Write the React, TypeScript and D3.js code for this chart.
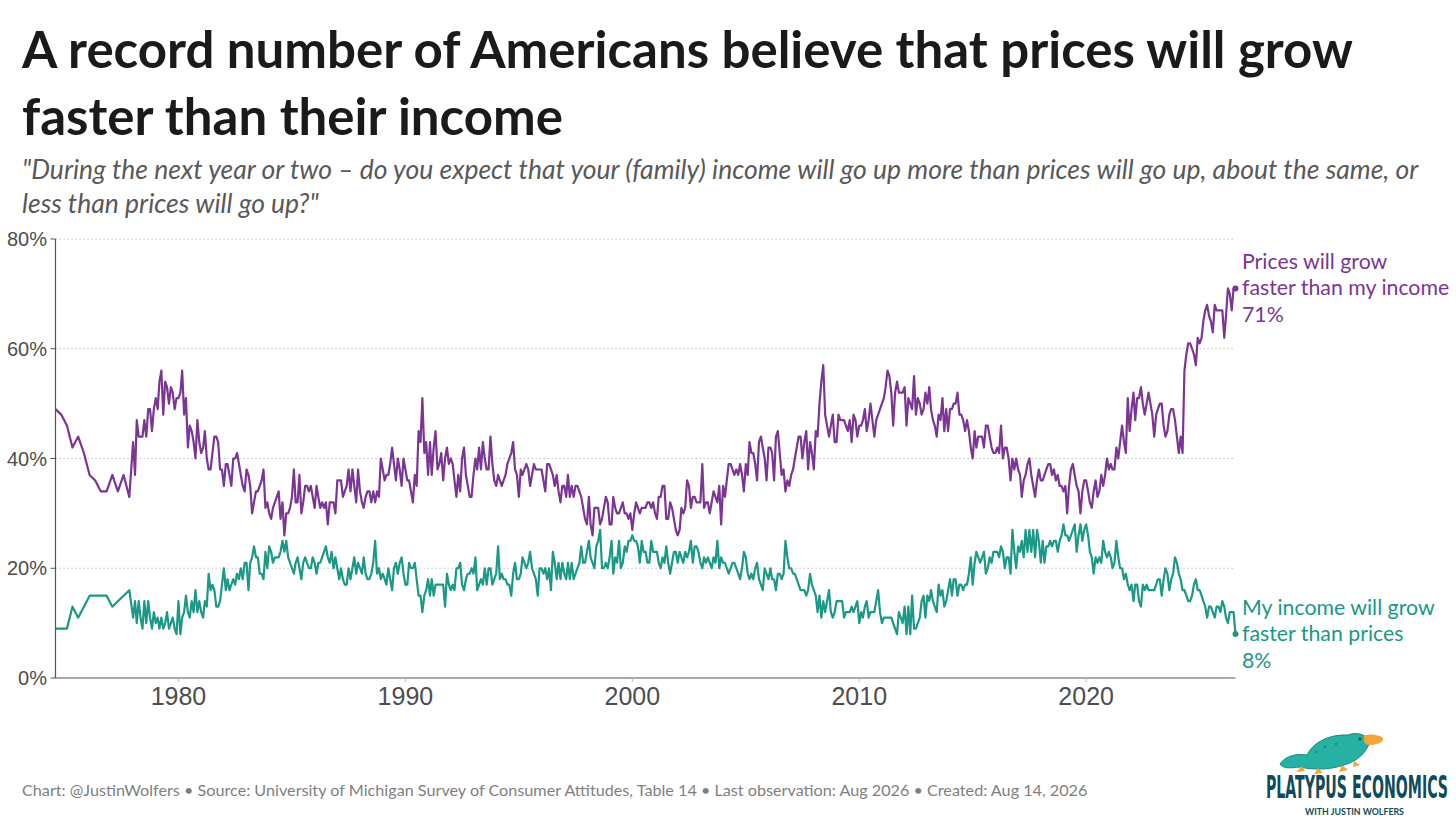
import { useLayoutEffect, useRef, useState } from "react";
import * as d3 from "d3";

// Quarterly readings, Aug 1974 – Nov 1977
const pricesQuarterly = [49, 48, 46, 42, 44, 41, 37, 36, 34, 34, 37, 34, 37, 33];
const incomeQuarterly = [9, 9, 9, 13, 11, 13, 15, 15, 15, 15, 13, 14, 15, 16];

// Monthly readings, Jan 1978 – Aug 2026 (one row per year)
const pricesMonthly = [
  43, 37, 47, 44, 44, 44, 47, 44, 49, 49, 45, 49, // 1978
  51, 49, 54, 56, 48, 54, 53, 50, 53, 52, 49, 51, // 1979
  51, 52, 56, 48, 51, 42, 46, 45, 43, 40, 47, 43, // 1980
  41, 42, 45, 40, 38, 38, 41, 44, 44, 43, 38, 38, // 1981
  35, 39, 39, 37, 35, 40, 40, 41, 39, 37, 35, 34, // 1982
  38, 37, 35, 30, 32, 34, 34, 35, 36, 38, 31, 32, // 1983
  30, 29, 31, 32, 33, 34, 29, 32, 26, 30, 30, 31, // 1984
  33, 38, 32, 32, 37, 30, 32, 35, 35, 34, 35, 33, // 1985
  31, 35, 33, 31, 32, 31, 32, 28, 32, 32, 32, 30, // 1986
  36, 36, 36, 33, 34, 35, 38, 34, 38, 35, 32, 38, // 1987
  34, 32, 31, 33, 34, 34, 32, 34, 32, 34, 33, 40, // 1988
  38, 36, 37, 37, 39, 42, 39, 36, 40, 38, 35, 40, // 1989
  38, 36, 36, 34, 32, 37, 35, 45, 43, 51, 41, 43, // 1990
  37, 43, 37, 42, 45, 38, 39, 41, 36, 40, 42, 39, // 1991
  40, 39, 36, 33, 37, 34, 40, 42, 37, 35, 33, 33, // 1992
  37, 40, 38, 42, 38, 43, 40, 38, 38, 44, 39, 36, // 1993
  35, 37, 36, 35, 36, 37, 39, 40, 41, 43, 38, 37, // 1994
  33, 38, 37, 38, 39, 38, 35, 37, 39, 38, 38, 38, // 1995
  38, 36, 34, 39, 39, 38, 37, 35, 37, 34, 32, 35, // 1996
  35, 33, 37, 33, 35, 33, 35, 35, 34, 33, 31, 29, // 1997
  28, 33, 28, 26, 31, 31, 31, 28, 29, 31, 33, 32, // 1998
  28, 28, 33, 31, 30, 30, 31, 32, 30, 30, 29, 30, // 1999
  27, 30, 32, 31, 30, 31, 31, 31, 32, 32, 31, 32, // 2000
  30, 29, 33, 33, 35, 35, 29, 29, 32, 31, 29, 27, // 2001
  26, 27, 31, 30, 31, 36, 35, 31, 33, 33, 32, 32, // 2002
  32, 39, 31, 32, 32, 30, 32, 34, 33, 32, 35, 28, // 2003
  35, 33, 36, 39, 39, 38, 37, 38, 37, 39, 37, 34, // 2004
  39, 37, 43, 41, 41, 39, 36, 43, 44, 42, 40, 36, // 2005
  42, 42, 41, 36, 44, 45, 41, 37, 38, 34, 36, 35, // 2006
  37, 38, 40, 42, 44, 44, 40, 43, 45, 38, 43, 41, // 2007
  38, 45, 44, 50, 54, 57, 48, 46, 44, 46, 48, 43, // 2008
  43, 48, 47, 47, 47, 46, 45, 47, 43, 48, 47, 44, // 2009
  46, 46, 47, 49, 45, 47, 50, 47, 44, 47, 48, 49, // 2010
  50, 51, 53, 56, 55, 52, 46, 52, 54, 52, 52, 52, // 2011
  53, 46, 51, 50, 49, 55, 48, 51, 50, 48, 49, 52, // 2012
  50, 53, 49, 47, 46, 44, 48, 47, 51, 45, 49, 45, // 2013
  49, 49, 50, 50, 52, 48, 48, 47, 45, 47, 45, 42, // 2014
  40, 45, 42, 44, 44, 44, 42, 46, 46, 44, 42, 41, // 2015
  41, 42, 41, 46, 40, 42, 42, 40, 36, 40, 38, 40, // 2016
  38, 37, 33, 36, 37, 39, 40, 37, 35, 33, 36, 38, // 2017
  36, 36, 37, 38, 39, 39, 37, 38, 36, 37, 35, 35, // 2018
  34, 35, 30, 35, 38, 39, 37, 35, 34, 30, 34, 36, // 2019
  36, 34, 32, 31, 34, 36, 33, 34, 37, 35, 37, 40, // 2020
  38, 39, 38, 38, 42, 40, 43, 46, 43, 41, 51, 45, // 2021
  49, 52, 47, 51, 51, 53, 50, 48, 50, 52, 50, 48, // 2022
  44, 48, 49, 50, 50, 46, 44, 45, 48, 49, 49, 47, // 2023
  44, 41, 44, 41, 56, 59, 61, 61, 60, 59, 57, 62, // 2024
  61, 62, 65, 67, 68, 66, 65, 63, 68, 67, 67, 67, // 2025
  67, 62, 66, 71, 70, 67, 71, 71, // 2026
];

const incomeMonthly = [
  11, 14, 10, 14, 11, 9, 14, 10, 14, 11, 9, 12, // 1978
  10, 11, 9, 11, 9, 10, 12, 9, 10, 11, 9, 8, // 1979
  14, 8, 11, 12, 15, 12, 11, 14, 12, 16, 12, 14, // 1980
  12, 11, 14, 13, 19, 16, 17, 16, 13, 13, 14, 17, // 1981
  20, 16, 18, 16, 17, 18, 17, 19, 18, 20, 18, 21, // 1982
  21, 16, 21, 22, 24, 22, 22, 19, 19, 18, 23, 20, // 1983
  24, 23, 21, 22, 22, 22, 23, 25, 23, 25, 22, 21, // 1984
  20, 19, 21, 22, 20, 18, 21, 22, 21, 20, 20, 22, // 1985
  21, 19, 21, 21, 22, 23, 24, 22, 21, 23, 20, 22, // 1986
  20, 18, 20, 18, 17, 17, 20, 18, 20, 22, 19, 21, // 1987
  20, 19, 22, 19, 18, 18, 19, 21, 25, 19, 20, 18, // 1988
  19, 18, 17, 20, 18, 16, 20, 21, 19, 21, 22, 19, // 1989
  17, 17, 21, 20, 20, 21, 18, 15, 15, 12, 15, 16, // 1990
  18, 15, 18, 15, 17, 17, 17, 17, 17, 13, 19, 17, // 1991
  16, 17, 16, 20, 20, 21, 17, 16, 18, 19, 19, 20, // 1992
  19, 22, 16, 17, 18, 17, 20, 17, 20, 20, 17, 18, // 1993
  19, 24, 18, 19, 18, 18, 17, 17, 15, 19, 21, 18, // 1994
  18, 19, 22, 21, 20, 21, 23, 20, 19, 18, 15, 20, // 1995
  20, 19, 20, 18, 20, 16, 23, 21, 18, 21, 18, 21, // 1996
  19, 18, 21, 18, 21, 18, 19, 20, 21, 24, 21, 21, // 1997
  23, 25, 22, 21, 20, 24, 25, 27, 20, 20, 21, 20, // 1998
  22, 25, 19, 22, 21, 25, 20, 21, 24, 23, 25, 25, // 1999
  26, 25, 25, 24, 21, 25, 23, 23, 21, 21, 25, 23, // 2000
  23, 23, 21, 20, 22, 21, 24, 21, 19, 21, 23, 23, // 2001
  21, 23, 22, 21, 23, 22, 23, 25, 21, 24, 24, 23, // 2002
  21, 20, 22, 21, 22, 21, 20, 22, 21, 25, 20, 22, // 2003
  21, 21, 20, 19, 20, 21, 21, 20, 19, 18, 20, 23, // 2004
  22, 19, 18, 19, 18, 20, 21, 18, 17, 16, 20, 19, // 2005
  18, 20, 18, 18, 16, 19, 19, 18, 19, 25, 22, 20, // 2006
  20, 19, 19, 18, 17, 16, 16, 16, 15, 16, 19, 17, // 2007
  16, 15, 12, 15, 11, 14, 12, 14, 16, 12, 11, 12, // 2008
  14, 14, 14, 14, 11, 12, 12, 12, 13, 12, 13, 14, // 2009
  10, 12, 11, 13, 14, 11, 12, 12, 12, 14, 16, 12, // 2010
  10, 11, 11, 11, 11, 11, 10, 9, 8, 12, 11, 10, // 2011
  13, 8, 13, 8, 15, 9, 9, 10, 11, 14, 15, 11, // 2012
  15, 14, 16, 14, 13, 12, 17, 15, 16, 13, 14, 16, // 2013
  18, 15, 18, 18, 15, 17, 17, 16, 17, 17, 19, 22, // 2014
  17, 21, 23, 22, 21, 22, 23, 19, 20, 22, 21, 23, // 2015
  23, 23, 22, 24, 23, 20, 22, 22, 19, 27, 23, 20, // 2016
  24, 23, 25, 22, 27, 23, 27, 23, 27, 22, 27, 25, // 2017
  21, 25, 21, 24, 24, 25, 24, 25, 25, 23, 25, 26, // 2018
  28, 26, 26, 25, 26, 27, 28, 23, 26, 28, 25, 27, // 2019
  28, 26, 23, 22, 19, 22, 21, 22, 21, 25, 23, 22, // 2020
  23, 22, 20, 21, 25, 22, 20, 20, 18, 19, 17, 16, // 2021
  17, 14, 17, 17, 14, 13, 17, 16, 17, 16, 16, 16, // 2022
  16, 17, 18, 18, 15, 18, 20, 19, 16, 18, 19, 22, // 2023
  21, 19, 18, 16, 16, 15, 14, 14, 15, 17, 18, 16, // 2024
  16, 15, 14, 13, 11, 13, 13, 12, 11, 13, 13, 12, // 2025
  14, 13, 11, 10, 12, 12, 12, 8, // 2026
];

const yTicks = [0, 20, 40, 60, 80];
const xTickYears = [1980, 1990, 2000, 2010, 2020];

const titleLines = [
  "A record number of Americans believe that prices will grow",
  "faster than their income",
];
const subtitleLines = [
  "\"During the next year or two – do you expect that your (family) income will go up more than prices will go up, about the same, or",
  "less than prices will go up?\"",
];
const pricesLabel = ["Prices will grow", "faster than my income"];
const incomeLabel = ["My income will grow", "faster than prices"];
const footer =
  "Chart: @JustinWolfers • Source: University of Michigan Survey of Consumer Attitudes, Table 14 • Last observation: Aug 2026 • Created: Aug 14, 2026";

const PURPLE = "#7b3595";
const TEAL = "#1b9886";
const LOGO_INK = "#0f4b5a";
const LATO = "Lato, 'Open Sans', sans-serif";
const ARIAL = "'Liberation Sans', Arial, sans-serif";

interface Point {
  date: Date;
  value: number;
}

function buildSeries(quarterly: number[], monthly: number[]): Point[] {
  const qStart = new Date(1974, 7, 1);
  const mStart = new Date(1978, 0, 1);
  const q = quarterly.map((v, i) => ({ date: d3.timeMonth.offset(qStart, i * 3), value: v }));
  const m = monthly.map((v, i) => ({ date: d3.timeMonth.offset(mStart, i), value: v }));
  return q.concat(m);
}

const prices = buildSeries(pricesQuarterly, pricesMonthly);
const income = buildSeries(incomeQuarterly, incomeMonthly);

// squeezes a text horizontally so it spans exactly `width` px
function FitText(props: {
  x: number;
  y: number;
  width: number;
  fontSize: number;
  fontFamily: string;
  fontWeight?: number;
  fill: string;
  children: string;
}) {
  const ref = useRef<SVGTextElement>(null);
  const [sx, setSx] = useState(0.55);
  useLayoutEffect(() => {
    if (!ref.current) return;
    const w = ref.current.getComputedTextLength();
    if (w > 0) setSx(props.width / w);
  }, [props.width, props.children]);
  return (
    <text
      ref={ref}
      transform={`translate(${props.x},${props.y}) scale(${sx},1)`}
      fontSize={props.fontSize}
      fontFamily={props.fontFamily}
      fontWeight={props.fontWeight}
      fill={props.fill}
    >
      {props.children}
    </text>
  );
}

export default function App() {
  const width = 1456;
  const height = 819;
  const margin = { left: 55.5, right: 220.5, top: 239, bottom: 141 };

  const x = d3
    .scaleTime()
    .domain([new Date(1974, 7, 1), new Date(2026, 7, 1)])
    .range([margin.left, width - margin.right]);
  const y = d3
    .scaleLinear()
    .domain([0, 80])
    .range([height - margin.bottom, margin.top]);

  const line = d3
    .line<Point>()
    .x((d) => x(d.date))
    .y((d) => y(d.value));

  const series = [
    { data: prices, color: PURPLE, label: pricesLabel },
    { data: income, color: TEAL, label: incomeLabel },
  ];

  const x0 = x.range()[0];
  const x1 = x.range()[1];

  return (
    <svg
      width={width}
      height={height}
      style={{ position: "absolute", left: 0, top: 0, background: "#fff" }}
    >
      {/* Title */}
      {titleLines.map((t, i) => (
        <text
          key={t}
          x={22}
          y={68 + i * 67}
          fontFamily={LATO}
          fontWeight={700}
          fontSize={51}
          fill="#1a1a1a"
        >
          {t}
        </text>
      ))}
      {subtitleLines.map((t, i) => (
        <text
          key={t}
          x={22}
          y={179 + i * 34}
          fontFamily={LATO}
          fontStyle="italic"
          fontSize={26.5}
          fill="#595959"
        >
          {t}
        </text>
      ))}

      {/* Grid */}
      {yTicks
        .filter((t) => t > 0)
        .map((t) => (
          <line
            key={t}
            x1={x0}
            x2={x1}
            y1={y(t)}
            y2={y(t)}
            stroke="#c4c4c4"
            strokeWidth={1}
            strokeDasharray="1.5,2.5"
          />
        ))}

      {/* Y axis */}
      <line x1={x0} x2={x0} y1={y(80)} y2={y(0)} stroke="#555" strokeWidth={1.2} />
      {yTicks.map((t) => (
        <g key={t}>
          <line x1={x0 - 5} x2={x0} y1={y(t)} y2={y(t)} stroke="#555" strokeWidth={1} />
          <text
            x={47}
            y={y(t)}
            dy="0.36em"
            textAnchor="end"
            fontFamily={ARIAL}
            fontSize={20}
            fill="#4d4d4d"
          >
            {t}%
          </text>
        </g>
      ))}

      {/* X axis */}
      <line x1={x0} x2={x1} y1={y(0)} y2={y(0)} stroke="#555" strokeWidth={1.2} />
      {xTickYears.map((yr) => {
        const px = x(new Date(yr, 0, 1));
        return (
          <g key={yr}>
            <line x1={px} x2={px} y1={y(0)} y2={y(0) + 4} stroke="#bbb" strokeWidth={1} />
            <text
              x={px}
              y={705}
              textAnchor="middle"
              fontFamily={ARIAL}
              fontSize={25}
              fill="#4d4d4d"
            >
              {yr}
            </text>
          </g>
        );
      })}

      {/* Lines */}
      {series.map((s) => {
        const last = s.data[s.data.length - 1];
        const ly = y(last.value) + 7;
        return (
          <g key={s.color}>
            <path
              d={line(s.data) || ""}
              fill="none"
              stroke={s.color}
              strokeWidth={2.2}
              strokeLinejoin="round"
            />
            <circle cx={x(last.date)} cy={y(last.value)} r={3} fill={s.color} />
            {[...s.label, `${last.value}%`].map((t, i) => (
              <text
                key={t}
                x={1242}
                y={ly + (i - 1) * 26.5}
                fontFamily={LATO}
                fontSize={21.3}
                fill={s.color}
              >
                {t}
              </text>
            ))}
          </g>
        );
      })}

      {/* Footer */}
      <text x={22} y={796} fontFamily={LATO} fontSize={16.2} fill="#7f7f7f">
        {footer}
      </text>

      {/* Logo */}
      <g>
        <path
          d="M1280,764 C1285,756 1297,753 1307,755 C1313,742 1330,734 1348,735 C1356,732 1364,734 1368,739 L1370,741 C1367,752 1358,761 1344,765 C1330,770 1312,770 1300,767 C1291,768 1283,769 1280,764 Z"
          fill="#27b1a5"
          stroke="#178a80"
          strokeWidth={1}
        />
        <path
          d="M1364,736 C1370,733 1379,735 1383,738 C1384,742 1378,744 1372,745 C1368,746 1365,744 1364,741 Z"
          fill="#f2a63a"
        />
        <circle cx={1360} cy={739} r={1.4} fill="#0d3b40" />
        <path d="M1302,766 l-6,6 l9,-1 z" fill="#f2a63a" />
        <path d="M1318,768 l-4,6 l9,-1 z" fill="#f2a63a" />
        <path d="M1342,765 l-3,7 l9,-2 z" fill="#f2a63a" />
        <path d="M1354,761 l-1,6 l7,-2 z" fill="#f2a63a" />
        <circle cx={1325} cy={747} r={1.3} fill="#178a80" />
        <circle cx={1336} cy={744} r={1.3} fill="#178a80" />
        <circle cx={1316} cy={752} r={1.3} fill="#178a80" />
        <FitText
          x={1266}
          y={798}
          width={182}
          fontSize={32}
          fontFamily="'DejaVu Sans Condensed', 'DejaVu Sans', sans-serif"
          fontWeight={700}
          fill={LOGO_INK}
        >
          PLATYPUS ECONOMICS
        </FitText>
        <FitText
          x={1305}
          y={815}
          width={99}
          fontSize={10}
          fontFamily={LATO}
          fontWeight={700}
          fill={LOGO_INK}
        >
          WITH JUSTIN WOLFERS
        </FitText>
      </g>
    </svg>
  );
}
